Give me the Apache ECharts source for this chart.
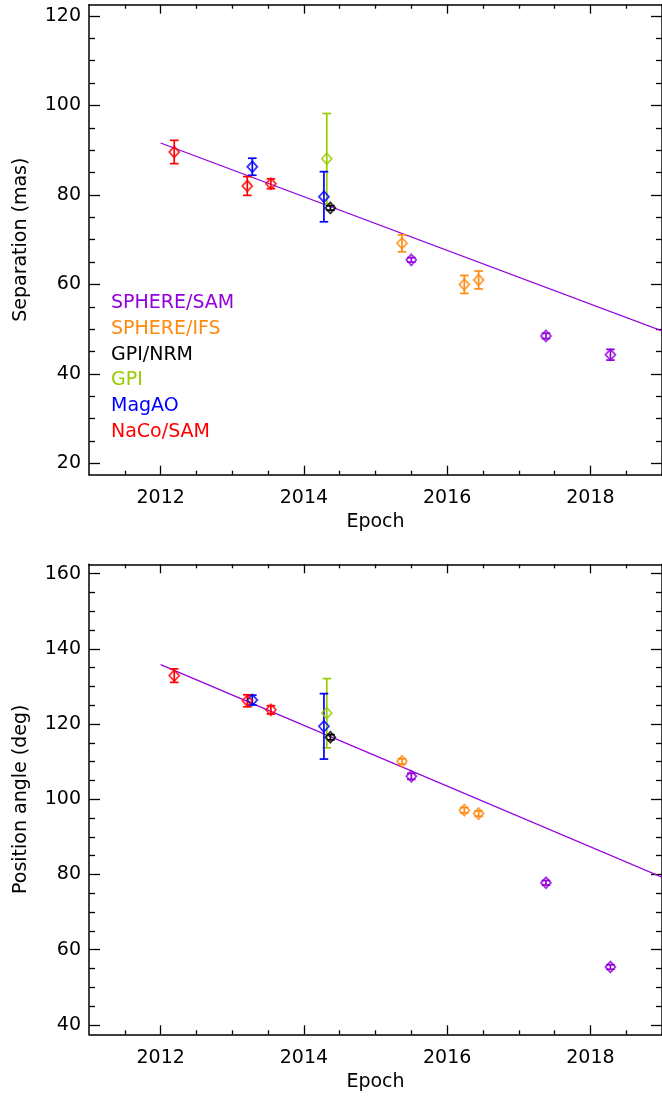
<!DOCTYPE html>
<html><head><meta charset="utf-8">
<script src="https://cdn.jsdelivr.net/npm/echarts@6/dist/echarts.min.js"></script>
<style>html,body{margin:0;padding:0;background:#fff}#c{width:662px;height:1097px}</style>
</head><body><div id="c"></div>
<script>
// ---- data ----
const instruments = ['SPHERE/SAM', 'SPHERE/IFS', 'GPI/NRM', 'GPI', 'MagAO', 'NaCo/SAM'];
const instrumentColors = ['#9400dd', '#ff8a10', '#000000', '#99cc00', '#0000ff', '#ff0000'];

const epochSphereSam = [2015.50, 2017.38, 2018.28];
const sepSphereSam = [65.5, 48.5, 44.3];
const sepErrSphereSam = [0.5, 0.6, 1.2];
const paSphereSam = [106.1, 77.8, 55.4];
const paErrSphereSam = [0.8, 0.6, 0.6];

const epochSphereIfs = [2015.37, 2016.24, 2016.44];
const sepSphereIfs = [69.2, 60.0, 61.0];
const sepErrSphereIfs = [1.9, 2.0, 2.0];
const paSphereIfs = [110.1, 97.1, 96.2];
const paErrSphereIfs = [0.7, 0.7, 0.7];

const epochGpiNrm = [2014.37];
const sepGpiNrm = [77.1];
const sepErrGpiNrm = [0.5];
const paGpiNrm = [116.5];
const paErrGpiNrm = [0.7];

const epochGpi = [2014.32];
const sepGpi = [88.1];
const sepErrGpi = [10.1];
const paGpi = [122.9];
const paErrGpi = [9.2];

const epochMagAO = [2013.28, 2014.28];
const sepMagAO = [86.3, 79.6];
const sepErrMagAO = [1.9, 5.6];
const paMagAO = [126.4, 119.4];
const paErrMagAO = [1.3, 8.7];

const epochNaco = [2012.19, 2013.21, 2013.54];
const sepNaco = [89.6, 82.0, 82.5];
const sepErrNaco = [2.6, 2.1, 1.1];
const paNaco = [132.9, 126.2, 123.8];
const paErrNaco = [1.8, 1.6, 1.1];

const fitEpochs = [2012, 2019];
const sepFit = [91.6, 49.6];
const paFit = [135.8, 79.3];

const xMajorTicks = [2012, 2014, 2016, 2018];
const xMinorTicks = [2011.5, 2012.5, 2013, 2013.5, 2014.5, 2015, 2015.5, 2016.5, 2017, 2017.5, 2018.5];
const sepMajorTicks = [20, 40, 60, 80, 100, 120];
const sepMinorTicks = [25, 30, 35, 45, 50, 55, 65, 70, 75, 85, 90, 95, 105, 110, 115];
const paMajorTicks = [40, 60, 80, 100, 120, 140, 160];
const paMinorTicks = [45, 50, 55, 65, 70, 75, 85, 90, 95, 105, 110, 115, 125, 130, 135, 145, 150, 155];

// ---- build ----
const FONT = 'DejaVu Sans';
const FS = 19;
const sepGroups = [
  [epochSphereSam, sepSphereSam, sepErrSphereSam],
  [epochSphereIfs, sepSphereIfs, sepErrSphereIfs],
  [epochGpiNrm, sepGpiNrm, sepErrGpiNrm],
  [epochGpi, sepGpi, sepErrGpi],
  [epochMagAO, sepMagAO, sepErrMagAO],
  [epochNaco, sepNaco, sepErrNaco]
];
const paGroups = [
  [epochSphereSam, paSphereSam, paErrSphereSam],
  [epochSphereIfs, paSphereIfs, paErrSphereIfs],
  [epochGpiNrm, paGpiNrm, paErrGpiNrm],
  [epochGpi, paGpi, paErrGpi],
  [epochMagAO, paMagAO, paErrMagAO],
  [epochNaco, paNaco, paErrNaco]
];

function xAxisDef(grid, position, ticks, len, showLabel, showLine, name) {
  return {
    type: 'value', gridIndex: grid, position: position, min: 2011, max: 2019,
    axisLine: { show: showLine, onZero: false, lineStyle: { color: '#000', width: 1.5 } },
    axisTick: { show: true, inside: true, length: len, customValues: ticks, lineStyle: { color: '#000', width: 1.3 } },
    axisLabel: { show: showLabel, customValues: ticks, margin: 14, color: '#000', fontFamily: FONT, fontSize: FS, formatter: v => String(Math.round(v)) },
    splitLine: { show: false },
    name: name || '', nameLocation: 'middle', nameGap: 38,
    nameTextStyle: { color: '#000', fontFamily: FONT, fontSize: FS }
  };
}
function yAxisDef(grid, position, min, max, ticks, len, showLabel, showLine, name) {
  return {
    type: 'value', gridIndex: grid, position: position, min: min, max: max,
    axisLine: { show: showLine, onZero: false, lineStyle: { color: '#000', width: 1.5 } },
    axisTick: { show: true, inside: true, length: len, customValues: ticks, lineStyle: { color: '#000', width: 1.3 } },
    axisLabel: { show: showLabel, customValues: ticks, margin: 8, color: '#000', fontFamily: FONT, fontSize: FS, formatter: v => String(Math.round(v)) },
    splitLine: { show: false },
    name: name || '', nameLocation: 'middle', nameGap: 58,
    nameTextStyle: { color: '#000', fontFamily: FONT, fontSize: FS }
  };
}

const xAxes = [];
const yAxes = [];
[0, 1].forEach(g => {
  xAxes.push(xAxisDef(g, 'bottom', xMajorTicks, 9, true, true, 'Epoch'));
  xAxes.push(xAxisDef(g, 'bottom', xMinorTicks, 4, false, false));
  xAxes.push(xAxisDef(g, 'top', xMajorTicks, 9, false, true));
  xAxes.push(xAxisDef(g, 'top', xMinorTicks, 4, false, false));
});
yAxes.push(yAxisDef(0, 'left', 17.5, 122.5, sepMajorTicks, 11, true, true, 'Separation (mas)'));
yAxes.push(yAxisDef(0, 'left', 17.5, 122.5, sepMinorTicks, 6, false, false));
yAxes.push(yAxisDef(0, 'right', 17.5, 122.5, sepMajorTicks, 11, false, true));
yAxes.push(yAxisDef(0, 'right', 17.5, 122.5, sepMinorTicks, 6, false, false));
yAxes.push(yAxisDef(1, 'left', 37.5, 162.5, paMajorTicks, 11, true, true, 'Position angle (deg)'));
yAxes.push(yAxisDef(1, 'left', 37.5, 162.5, paMinorTicks, 6, false, false));
yAxes.push(yAxisDef(1, 'right', 37.5, 162.5, paMajorTicks, 11, false, true));
yAxes.push(yAxisDef(1, 'right', 37.5, 162.5, paMinorTicks, 6, false, false));

function errRender(color) {
  return function (params, api) {
    const x = api.value(0), y = api.value(1), e = api.value(2);
    const p1 = api.coord([x, y + e]);
    const p2 = api.coord([x, y - e]);
    const hw = 4.3;
    const st = { stroke: color, lineWidth: 1.7 };
    return {
      type: 'group', children: [
        { type: 'line', shape: { x1: p1[0], y1: p1[1], x2: p2[0], y2: p2[1] }, style: st },
        { type: 'line', shape: { x1: p1[0] - hw, y1: p1[1], x2: p1[0] + hw, y2: p1[1] }, style: st },
        { type: 'line', shape: { x1: p2[0] - hw, y1: p2[1], x2: p2[0] + hw, y2: p2[1] }, style: st }
      ]
    };
  };
}

const series = [];
function addPanel(groups, fitVals, xi, yi) {
  series.push({
    type: 'line', xAxisIndex: xi, yAxisIndex: yi, silent: true, z: 1,
    data: fitEpochs.map((e, i) => [e, fitVals[i]]),
    showSymbol: false, symbol: 'none',
    lineStyle: { color: instrumentColors[0], width: 1.3 }
  });
  groups.forEach((grp, k) => {
    const [ep, val, err] = grp;
    const color = instrumentColors[k];
    series.push({
      type: 'custom', name: instruments[k], xAxisIndex: xi, yAxisIndex: yi, silent: true, z: 2,
      data: ep.map((e, i) => [e, val[i], err[i]]),
      encode: { x: 0, y: 1 },
      renderItem: errRender(color)
    });
    series.push({
      type: 'scatter', name: instruments[k], xAxisIndex: xi, yAxisIndex: yi, silent: true, z: 3,
      data: ep.map((e, i) => [e, val[i]]),
      symbol: 'diamond', symbolSize: [10, 11],
      itemStyle: { color: 'rgba(255,255,255,0)', borderColor: color, borderWidth: 1.8 }
    });
  });
}
addPanel(sepGroups, sepFit, 0, 0);
addPanel(paGroups, paFit, 4, 4);

const option = {
  animation: false,
  backgroundColor: '#fff',
  grid: [
    { left: 89, top: 4.7, width: 573, height: 470 },
    { left: 89, top: 564.3, width: 573, height: 470 }
  ],
  xAxis: xAxes,
  yAxis: yAxes,
  legend: {
    orient: 'vertical', left: 106, top: 293.8, padding: 0,
    itemWidth: 0, itemHeight: 19, itemGap: 6.7, icon: 'none', selectedMode: false,
    textStyle: { fontFamily: FONT, fontSize: FS, lineHeight: 19 },
    data: instruments.map((n, i) => ({ name: n, icon: 'none', textStyle: { color: instrumentColors[i] } }))
  },
  series: series
};
const chart = echarts.init(document.getElementById('c'), null, { renderer: 'canvas' });
chart.setOption(option);
</script>
</body></html>
